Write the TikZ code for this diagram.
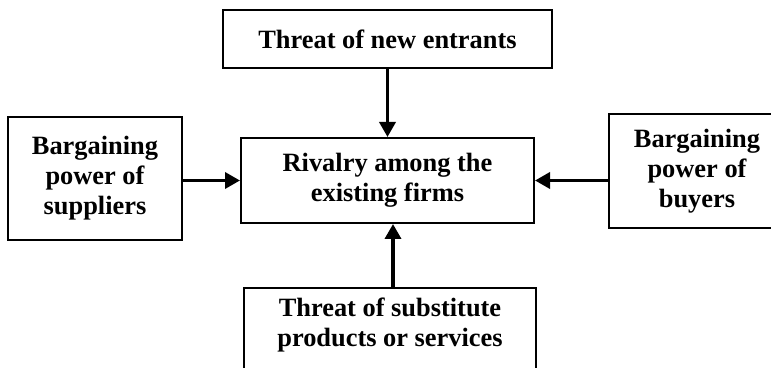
\documentclass[tikz,border=0pt]{standalone}
\usepackage{fontspec}
\setmainfont{Liberation Serif}
\usetikzlibrary{arrows.meta}

\begin{document}
\begin{tikzpicture}[x=0.5pt, y=-0.5pt,
    force/.style={draw, line width=1pt, align=center, inner sep=0pt,
      font=\fontsize{13.2pt}{15pt}\selectfont\bfseries},
    push/.style={line width=1.75pt, -{Triangle[length=7.5pt,width=8pt]}}]
      \useasboundingbox (0,0) rectangle (771,368);

      % forces
      \node[force, minimum width=164.5pt, minimum height=29pt] (entrants) at (387.5,39) {Threat of new entrants};
      \node[force, minimum width=87pt, minimum height=61.5pt] (suppliers) at (95,178.5) {Bargaining\\power of\\suppliers};
      \node[force, minimum width=146.5pt, minimum height=42.5pt] (rivalry) at (387.5,180.5) {Rivalry among the\\existing firms};
      \node[force, minimum width=88pt, minimum height=57pt] (buyers) at (697,171) {Bargaining\\power of\\buyers};

      % substitutes box runs off the page
      \node[force, draw=none] (subst) at (390,325) {Threat of substitute\\products or services};
      \draw[line width=1pt] (244,390) -- (244,288) -- (536,288) -- (536,390);
      \coordinate (substtop) at (393,288);

      % arrows into rivalry
      \draw[push] (entrants) -- (rivalry);
      \draw[push] (suppliers.east |- rivalry.west) -- (rivalry.west);
      \draw[push] (buyers.west |- rivalry.east) -- (rivalry.east);
      \draw[push] (substtop) -- (substtop |- rivalry.south);
\end{tikzpicture}
\end{document}
